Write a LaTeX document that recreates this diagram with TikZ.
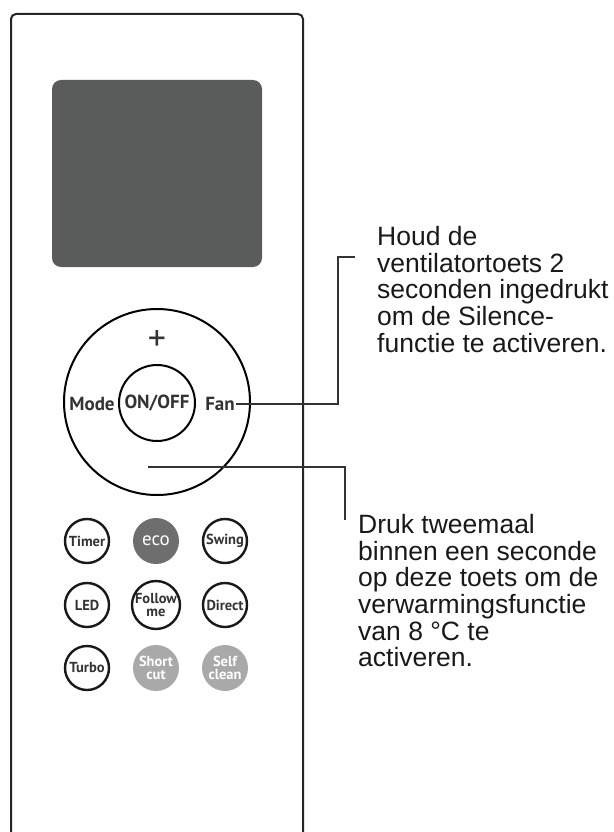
\documentclass[tikz,border=0pt]{standalone}
\usepackage{fontspec}
\setmainfont{Liberation Sans}
\newfontfamily\keyfont{PT Sans}
\usetikzlibrary{positioning}

\definecolor{lcdgray}{HTML}{5A5C5B}
\definecolor{ecogray}{HTML}{6E6E6E}
\definecolor{softgray}{HTML}{A9A9A9}

\begin{document}
\begin{tikzpicture}[x=1pt,y=-1pt,
		key/.style={
			% The shape:
			circle,minimum size=44pt,inner sep=0pt,
			% The rest
			line width=2.4pt,draw=black!90,
			font=\keyfont\bfseries\fontsize{14.5}{13.5}\selectfont,
			text=black!80,align=center},
		softkey/.style={
			key,minimum size=46pt,draw=none,
			fill=softgray,text=white},
		ringlabel/.style={
			inner sep=1pt,text=black!80,
			font=\keyfont\bfseries\fontsize{19}{19}\selectfont},
		callout/.style={
			anchor=north west,inner sep=0pt,align=left,
			text=black!90,font=\fontsize{26.5}{26.7}\selectfont},
		leader/.style={line width=1.8pt,draw=black!80}]

	\useasboundingbox (0,0) rectangle (613,832);

	% remote housing and display
	\draw[line width=2pt,black!85,rounded corners=5pt]
		(11,832) -- (11,14) -- (303,14) -- (303,832);
	\node (lcd)		[fill=lcdgray,rounded corners=9pt,inner sep=0pt,
					 minimum width=210pt,minimum height=187pt] at (157,173.5) {};

	% control ring
	\node (ring)	[circle,draw,line width=2pt,minimum size=186pt] at (157,402) {};
	\node (onoff)	[circle,draw,line width=2pt,minimum size=76pt,ringlabel] at (157,403) {ON/OFF};
	\node (mode)	[ringlabel] at (92,404) {Mode};
	\node (fan)		[ringlabel] at (220,404) {Fan};
	\node (plus)	[ringlabel,font=\keyfont\fontsize{36}{36}\selectfont] at (157,341) {+};

	% keys
	\node (b_timer)	[key]		at (87,541)  {Timer};
	\node (b_eco)	[softkey,fill=ecogray,font=\keyfont\fontsize{19}{19}\selectfont] at (156,541) {eco};
	\node (b_swing)	[key]		at (225,541) {Swing};
	\node (b_led)	[key]		at (87,605)  {LED};
	\node (b_follow)	[key]	at (156,605) {Follow\\me};
	\node (b_direct)	[key]	at (225,605) {Direct};
	\node (b_turbo)	[key]		at (87,668)  {Turbo};
	\node (b_short)	[softkey]	at (156,668) {Short\\cut};
	\node (b_self)	[softkey]	at (225,668) {Self\\clean};

	% notes
	\node (n_fan)	[callout] at (377,226)
		{Houd de\\ventilatortoets 2\\seconden ingedrukt\\om de Silence-\\functie te activeren.};
	\node (n_minus)	[callout] at (358,514)
		{Druk tweemaal\\binnen een seconde\\op deze toets om de\\verwarmingsfunctie\\van 8 °C te\\activeren.};

	\coordinate (fan_bend)	at (338,257);
	\coordinate (fan_tip)	at (355,257);
	\coordinate (minus_pt)	at (148,467);
	\coordinate (minus_bend) at (345,467);
	\coordinate (minus_tip)	at (345,520);

	\draw[leader] (fan.east) -| (fan_bend) -- (fan_tip);
	\draw[leader] (minus_pt) -- (minus_bend) -- (minus_tip);
\end{tikzpicture}
\end{document}
